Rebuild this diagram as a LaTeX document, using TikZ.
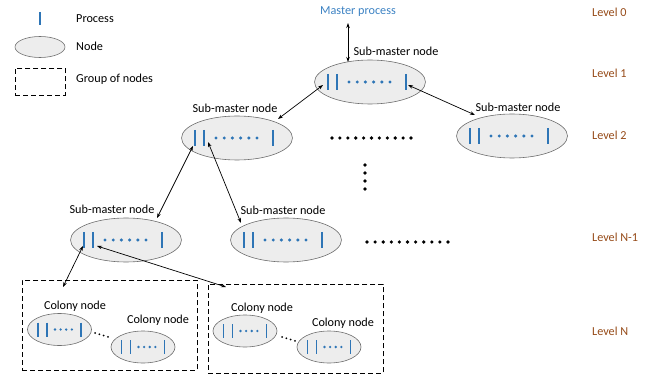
\documentclass[tikz,border=0pt]{standalone}
\usepackage{fontspec}
\setmainfont{Carlito}
\usetikzlibrary{arrows.meta,shapes.geometric,calc}
\definecolor{procblue}{RGB}{46,117,182}
\definecolor{lvl}{RGB}{150,75,25}
\definecolor{mblue}{RGB}{60,130,195}
\definecolor{nodefill}{RGB}{237,237,237}
\definecolor{nodeline}{RGB}{110,110,110}
\newcommand\bigprocs[1]{%
  \foreach \dx in {-42,-33,36} \draw[proc] ($(#1)+(\dx,-8)$) -- ($(#1)+(\dx,8)$);
  \foreach \i in {0,...,5} \fill[procblue] ($(#1)+({-21+8.2*\i},0)$) circle (1.7pt);
}
\newcommand\smallprocs[1]{%
  \foreach \dx in {-21.5,-12.5,21.5} \draw[proc] ($(#1)+(\dx,-7)$) -- ($(#1)+(\dx,7)$);
  \foreach \i in {0,...,3} \fill[procblue] ($(#1)+({-4.5+5.6*\i},0)$) circle (1.3pt);
}
\begin{document}
\begin{tikzpicture}[x=1pt,y=-1pt,
  every node/.style={font=\fontsize{12.2}{14}\selectfont, inner sep=0pt},
  bignode/.style={ellipse, draw=nodeline, fill=nodefill, line width=0.6pt, minimum width=111pt, minimum height=44pt},
  colnode/.style={ellipse, draw=nodeline, fill=nodefill, line width=0.6pt, minimum width=64pt, minimum height=32pt},
  lvltxt/.style={text=lvl, anchor=west},
  legtxt/.style={anchor=west},
  link/.style={{Stealth[length=5pt,width=3.5pt]}-{Stealth[length=5pt,width=3.5pt]}, line width=0.7pt},
  group/.style={draw, dash pattern=on 5pt off 3pt, line width=0.9pt, anchor=north west},
  proc/.style={draw=procblue, line width=1.6pt}
]
\useasboundingbox (0,0) rectangle (654,377);

% legend
\coordinate (pb1) at (40,12); \coordinate (pb2) at (40,25);
\draw[proc] (pb1) -- (pb2);
\node[legtxt] (lp) at (76,19) {Process};
\node[ellipse, draw=nodeline, fill=nodefill, line width=0.6pt, minimum width=50pt, minimum height=21pt] (ln) at (40,47) {};
\node[legtxt] (lnt) at (76,46) {Node};
\node[group, minimum width=50pt, minimum height=27pt] (lg) at (15,68) {};
\node[legtxt] (lgt) at (76,79) {Group of nodes};

% levels
\node[lvltxt] (lv0) at (592,12) {Level 0};
\node[lvltxt] (lv1) at (592,73) {Level 1};
\node[lvltxt] (lv2) at (592,135) {Level 2};
\node[lvltxt] (lv3) at (592,237) {Level N-1};
\node[lvltxt] (lv4) at (592,331) {Level N};

% master
\node[text=mblue] (M) at (358,12) {Master process};

% big nodes
\node[bignode] (L1) at (370,82) {};
\node[bignode] (L2a) at (237,138) {};
\node[bignode] (L2b) at (512,136) {};
\node[bignode] (N1a) at (126,240) {};
\node[bignode] (N1b) at (286,240) {};
\bigprocs{L1}
\bigprocs{L2a}
\bigprocs{L2b}
\bigprocs{N1a}
\bigprocs{N1b}

\node (tL1) at (396,51) {Sub-master node};
\node (tL2a) at (235,108) {Sub-master node};
\node (tL2b) at (518,107) {Sub-master node};
\node (tN1a) at (112,209) {Sub-master node};
\node (tN1b) at (283,210) {Sub-master node};

% groups
\node[group, minimum width=175pt, minimum height=90pt] (G1) at (22,280) {};
\node[group, minimum width=175pt, minimum height=89pt] (G2) at (208,284) {};

% colony nodes
\node[colnode] (C1) at (59.5,329.5) {};
\node[colnode] (C2) at (143,347) {};
\node[colnode] (C3) at (245,331) {};
\node[colnode] (C4) at (329,347) {};
\smallprocs{C1}
\smallprocs{C2}
\smallprocs{C3}
\smallprocs{C4}
\node (tC1) at (75,306) {Colony node};
\node (tC2) at (158,320) {Colony node};
\node (tC3) at (262,308) {Colony node};
\node (tC4) at (343,323) {Colony node};
\foreach \i in {0,...,3} \fill ({95+4.3*\i},{333+1.3*\i}) circle (1pt);
\foreach \i in {0,...,3} \fill ({282+4.3*\i},{337+1.3*\i}) circle (1pt);

% ellipsis dots
\foreach \i in {0,...,10} \fill ({332+7.9*\i},138) circle (1.8pt);
\foreach \i in {0,...,10} \fill ({367+8.1*\i},242) circle (1.8pt);
\foreach \yy in {165,173,181,189} \fill (365,\yy) circle (1.8pt);

% arrows
\coordinate (m1) at (348,23);  \coordinate (m2) at (348,62);
\coordinate (a1) at (323,85);  \coordinate (a2) at (278,119);
\coordinate (b1) at (408,85);  \coordinate (b2) at (475,115);
\coordinate (c1) at (193,146); \coordinate (c2) at (157,218);
\coordinate (d1) at (208,142); \coordinate (d2) at (241,223);
\coordinate (e1) at (83,246);  \coordinate (e2) at (63,287);
\coordinate (f1) at (97,246);  \coordinate (f2) at (226,287);
\draw[link] (m1) -- (m2);
\draw[link] (a1) -- (a2);
\draw[link] (b1) -- (b2);
\draw[link] (c1) -- (c2);
\draw[link] (d1) -- (d2);
\draw[link] (e1) -- (e2);
\draw[link] (f1) -- (f2);
\end{tikzpicture}
\end{document}
